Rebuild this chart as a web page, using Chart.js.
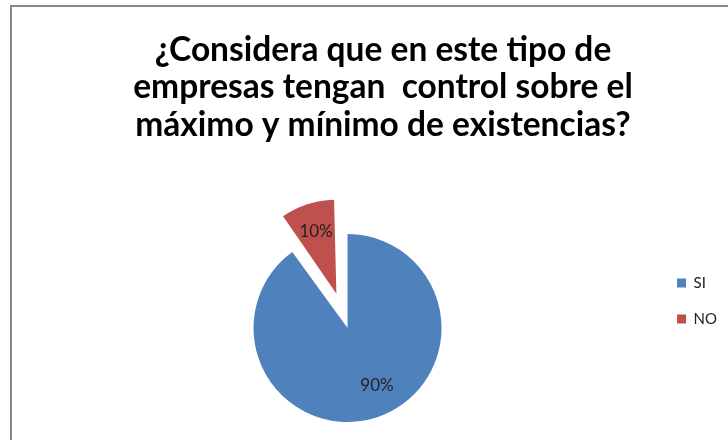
<!DOCTYPE html>
<html>
<head>
<meta charset="utf-8">
<script src="https://cdn.jsdelivr.net/npm/chart.js@4"></script>
<style>
  html, body { margin: 0; padding: 0; background: #fff; }
  #frame { position: absolute; left: 10px; top: 5px; width: 800px; height: 500px; border: 2px solid #898989; }
  #chart { position: absolute; left: 0; top: 0; }
</style>
</head>
<body>
<div id="frame"></div>
<canvas id="chart" width="728" height="440"></canvas>
<script>
const titleLines = ['¿Considera que en este tipo de', 'empresas tengan  control sobre el', 'máximo y mínimo de existencias?'];
const categories = ['SI', 'NO'];
const percentages = [90, 10];
const sliceColors = ['#4F81BD', '#C0504D'];

// Chart.js moves an arc by offset/4 and also grows its radius;
// keep the exploded slice at the same radius as the others
const keepRadius = {
    id: 'keepRadius',
    afterDatasetUpdate(chart, args) {
        const meta = args.meta;
        const R = meta.controller.outerRadius;
        meta.data.forEach((arc, i) => {
            const off = (chart.data.datasets[0].offset[i] || 0) / 4;
            const fix = 1 - Math.sin(Math.min(Math.PI, arc.circumference || 0));
            arc.outerRadius = R - off * fix;
        });
    }
};

// percentage labels drawn on top of the slices
const sliceLabels = {
    id: 'sliceLabels',
    afterDatasetsDraw(chart, args, opts) {
        const ctx = chart.ctx;
        const meta = chart.getDatasetMeta(0);
        const R = meta.controller.outerRadius;
        ctx.save();
        ctx.font = '17px Lato';
        ctx.fillStyle = '#222';
        ctx.textAlign = 'center';
        ctx.textBaseline = 'middle';
        meta.data.forEach((arc, i) => {
            const off = (chart.data.datasets[0].offset[i] || 0) / 4;
            const mid = (arc.startAngle + arc.endAngle) / 2;
            const cx = arc.x + Math.cos(mid) * off;
            const cy = arc.y + Math.sin(mid) * off;
            const a = (opts.angles[i] - 90) * Math.PI / 180;
            const r = R * opts.radii[i];
            ctx.fillText(percentages[i] + '%', cx + Math.cos(a) * r, cy + Math.sin(a) * r);
        });
        ctx.restore();
    }
};

const ctx = document.getElementById('chart').getContext('2d');

const pieChart = new Chart(ctx, {
    type: 'pie',
    data: {
        labels: categories,
        datasets: [{
            data: percentages,
            backgroundColor: sliceColors,
            borderWidth: 0,
            offset: [0, 144]
        }]
    },
    options: {
        responsive: false,
        animation: false,
        radius: 94,
        layout: {
            padding: { left: 39, right: 1, top: 0, bottom: 38.5 }
        },
        plugins: {
            title: {
                display: true,
                text: titleLines,
                color: '#000',
                font: { family: 'Lato', size: 33.5, weight: 'bold', lineHeight: '37.5px' },
                padding: { top: 31, bottom: 111 }
            },
            legend: {
                position: 'right',
                align: 'start',
                fullSize: false,
                labels: {
                    color: '#222',
                    font: { family: 'Lato', size: 15 },
                    boxWidth: 9,
                    boxHeight: 9,
                    padding: 21
                }
            },
            tooltip: { enabled: false },
            sliceLabels: {
                angles: [153, 342],
                radii: [0.69, 0.7]
            }
        }
    },
    plugins: [keepRadius, sliceLabels]
});
</script>
</body>
</html>
